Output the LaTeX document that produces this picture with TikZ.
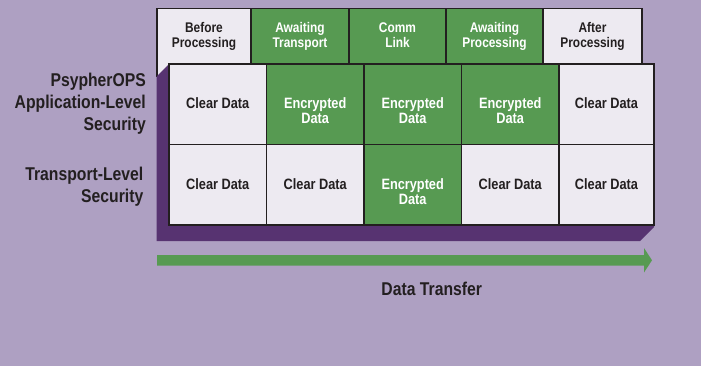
\documentclass[tikz,border=0pt]{standalone}
\usepackage{fontspec}
\setmainfont{Liberation Sans}[FakeStretch=0.85]
\definecolor{bg}{HTML}{AEA0C2}
\definecolor{light}{HTML}{EDEAF1}
\definecolor{grn}{HTML}{579A52}
\definecolor{dk}{HTML}{573371}
\definecolor{ink}{HTML}{231F20}
\begin{document}
\begin{tikzpicture}[x=1pt,y=-1pt,
  lightcell/.style={fill=light,draw=ink,line width=1.1pt},
  greencell/.style={fill=grn,draw=ink,line width=1.1pt},
  hdtext/.style={font=\bfseries\fontsize{14}{15.3}\selectfont,align=center,anchor=base,inner sep=0pt},
  celltext/.style={font=\bfseries\fontsize{15}{15}\selectfont,align=center,anchor=base,inner sep=0pt},
  sidetext/.style={font=\bfseries\fontsize{18.5}{22}\selectfont,align=right,anchor=base east,inner sep=0pt,text=ink},
  ondark/.style={text=white},
  onlight/.style={text=ink}]
\fill[bg] (0,0) rectangle (701,366);
\useasboundingbox (0,0) rectangle (701,366);
% header row
\path[lightcell] (157,8.3) rectangle (251,76.5);
\path[greencell] (251,8.3) rectangle (349,64);
\path[greencell] (349,8.3) rectangle (446,64);
\path[greencell] (446,8.3) rectangle (543,64);
\path[lightcell] (543,8.3) rectangle (642,64);
% dark extrusion
\fill[dk] (169,64) -- (156.5,76.5) -- (156.5,241) -- (640,241) -- (654,227) -- (654,64) -- cycle;
% grid
\path[lightcell] (169,64) rectangle (266.5,144.7);
\path[greencell] (266.5,64) rectangle (364,144.7);
\path[greencell] (364,64) rectangle (461.5,144.7);
\path[greencell] (461.5,64) rectangle (559,144.7);
\path[lightcell] (559,64) rectangle (654,144.7);
\path[lightcell] (169,144.7) rectangle (266.5,225);
\path[lightcell] (266.5,144.7) rectangle (364,225);
\path[greencell] (364,144.7) rectangle (461.5,225);
\path[lightcell] (461.5,144.7) rectangle (559,225);
\path[lightcell] (559,144.7) rectangle (654,225);
% header texts (base = last line baseline)
\node[hdtext,onlight] (h1) at (204,47.6) {Before\\Processing};
\node[hdtext,ondark] (h2) at (300,47.6) {Awaiting\\Transport};
\node[hdtext,ondark] (h3) at (397.5,47.6) {Comm\\Link};
\node[hdtext,ondark] (h4) at (494.5,47.6) {Awaiting\\Processing};
\node[hdtext,onlight] (h5) at (592.5,47.6) {After\\Processing};
% row 1 texts
\node[celltext,onlight] (a1) at (217.7,108.3) {Clear Data};
\node[celltext,ondark] (a2) at (315.2,123.3) {Encrypted\\Data};
\node[celltext,ondark] (a3) at (412.7,123.3) {Encrypted\\Data};
\node[celltext,ondark] (a4) at (510.2,123.3) {Encrypted\\Data};
\node[celltext,onlight] (a5) at (606.5,108.3) {Clear Data};
% row 2 texts
\node[celltext,onlight] (b1) at (217.7,189.3) {Clear Data};
\node[celltext,onlight] (b2) at (315.2,189.3) {Clear Data};
\node[celltext,ondark] (b3) at (412.7,204.3) {Encrypted\\Data};
\node[celltext,onlight] (b4) at (510.2,189.3) {Clear Data};
\node[celltext,onlight] (b5) at (606.5,189.3) {Clear Data};
% side labels
\node[sidetext] (lapp) at (146,130.5) {PsypherOPS\\Application-Level\\Security};
\node[sidetext] (ltrn) at (143.5,202.7) {Transport-Level\\Security};
% arrow
\fill[grn] (157,255) -- (644,255) -- (644,248) -- (652,260.3) -- (644,272.5) -- (644,265.5) -- (157,265.5) -- cycle;
\node[font=\bfseries\fontsize{18.5}{22}\selectfont,anchor=base,inner sep=0pt,text=ink] (xfer) at (431.7,295.7) {Data Transfer};
\end{tikzpicture}
\end{document}
